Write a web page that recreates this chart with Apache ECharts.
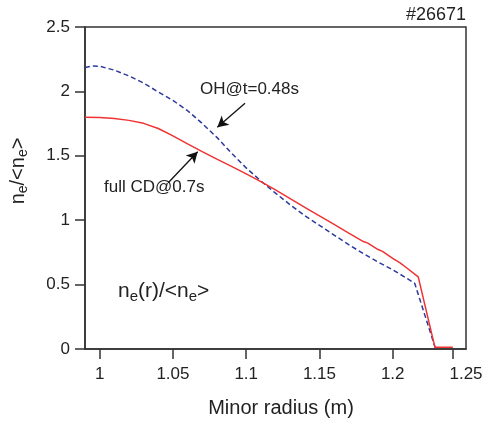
<!DOCTYPE html>
<html>
<head>
<meta charset="utf-8">
<script src="https://cdn.jsdelivr.net/npm/echarts@6/dist/echarts.min.js"></script>
<style>html,body{margin:0;padding:0;background:#fff}#c{width:486px;height:424px}</style>
</head>
<body>
<div id="c"></div>
<script>
// Data
const fullCD_r = [0.99,1.00,1.01,1.02,1.03,1.04,1.05,1.06,1.07,1.08,1.09,1.10,1.11,1.12,1.13,1.14,1.15,1.16,1.17,1.18,1.181,1.183,1.19,1.191,1.193,1.20,1.205,1.207,1.2174,1.2288,1.241];
const fullCD_ne = [1.80,1.798,1.79,1.775,1.752,1.712,1.655,1.592,1.532,1.474,1.418,1.36,1.30,1.235,1.168,1.10,1.034,0.967,0.90,0.834,0.838,0.822,0.772,0.774,0.758,0.703,0.668,0.652,0.56,0.013,0.013];
const OH_r = [0.99,0.995,1.00,1.01,1.02,1.03,1.04,1.05,1.06,1.07,1.08,1.09,1.10,1.11,1.12,1.13,1.14,1.15,1.16,1.17,1.18,1.19,1.20,1.21,1.215,1.229];
const OH_ne = [2.185,2.197,2.195,2.165,2.12,2.065,1.995,1.93,1.85,1.751,1.643,1.52,1.406,1.305,1.21,1.12,1.035,0.96,0.885,0.81,0.74,0.675,0.615,0.546,0.51,0.01];
const xLabels = [1, 1.05, 1.1, 1.15, 1.2, 1.25];
const xTicks = [1, 1.05, 1.1, 1.15, 1.2, 1.241];
const yTicks = [0, 0.5, 1, 1.5, 2, 2.5];
const arrowOH = [[1.0992, 1.908], [1.0803, 1.721]];
const arrowCD = [[1.0468, 1.291], [1.0669, 1.532]];

const pair = (xs, ys) => xs.map((x, i) => [x, ys[i]]);
const FONT = 'Liberation Sans, Arial, sans-serif';
const axisCol = '#333';

const chart = echarts.init(document.getElementById('c'));
chart.setOption({
  animation: false,
  title: {
    text: '#26671', right: 20, top: 6, padding: 0,
    textStyle: {fontFamily: FONT, fontSize: 18, fontWeight: 'normal', color: '#222'}
  },
  grid: {left: 85, top: 27, right: 20, bottom: 75, show: true, borderColor: axisCol, borderWidth: 1.5},
  xAxis: {
    type: 'value', min: 0.99, max: 1.25,
    splitLine: {show: false},
    axisLine: {lineStyle: {color: axisCol, width: 1.5}},
    axisTick: {show: true, length: 10, lineStyle: {color: axisCol, width: 1.5}, customValues: xTicks},
    axisLabel: {customValues: xLabels, margin: 17, fontFamily: FONT, fontSize: 17, color: '#222', showMinLabel: true, showMaxLabel: true},
    name: 'Minor radius (m)', nameLocation: 'middle', nameGap: 49,
    nameTextStyle: {fontFamily: FONT, fontSize: 20, color: '#222', padding: [0, 0, 0, 11]}
  },
  yAxis: {
    type: 'value', min: 0, max: 2.5, interval: 0.5,
    splitLine: {show: false},
    axisLine: {show: true, lineStyle: {color: axisCol, width: 1.5}},
    axisTick: {show: true, length: 10, lineStyle: {color: axisCol, width: 1.5}},
    axisLabel: {margin: 15, fontFamily: FONT, fontSize: 17, color: '#222'},
    name: '{m|n}{s|e}{m|/<n}{s|e}{m|>}', nameLocation: 'middle', nameGap: 55, nameRotate: 90,
    nameTextStyle: {
      fontFamily: FONT, fontSize: 20, color: '#222', padding: [0, 0, 0, 34],
      rich: {
        m: {fontFamily: FONT, fontSize: 20, color: '#222'},
        s: {fontFamily: FONT, fontSize: 14, color: '#222', padding: [9, 0, 0, 0]}
      }
    }
  },
  series: [
    {
      type: 'line', name: 'OH@t=0.48s', data: pair(OH_r, OH_ne),
      showSymbol: false, symbol: 'none', z: 2,
      lineStyle: {color: '#2b3a9c', width: 1.5, type: [5, 3]}
    },
    {
      type: 'line', name: 'full CD@0.7s', data: pair(fullCD_r, fullCD_ne),
      showSymbol: false, symbol: 'none', z: 3,
      lineStyle: {color: '#f03232', width: 1.5},
      markLine: {
        silent: true, symbol: ['none', 'arrow'], symbolSize: [9, 11],
        lineStyle: {color: '#111', width: 1.3, type: 'solid'},
        label: {show: false},
        data: [
          [{coord: arrowOH[0]}, {coord: arrowOH[1]}],
          [{coord: arrowCD[0]}, {coord: arrowCD[1]}]
        ]
      }
    }
  ],
  graphic: [
    {type: 'text', left: 200, top: 81, style: {text: 'OH@t=0.48s', font: '17px ' + FONT, fill: '#222'}},
    {type: 'text', left: 104, top: 179, style: {text: 'full CD@0.7s', font: '17px ' + FONT, fill: '#222'}},
    {type: 'text', left: 118, top: 281, style: {
      text: '{m|n}{s|e}{m|(r)/<n}{s|e}{m|>}',
      rich: {
        m: {fontFamily: FONT, fontSize: 21, fill: '#222'},
        s: {fontFamily: FONT, fontSize: 15, fill: '#222', padding: [10, 0, 0, 0]}
      }
    }}
  ]
});
</script>
</body>
</html>
